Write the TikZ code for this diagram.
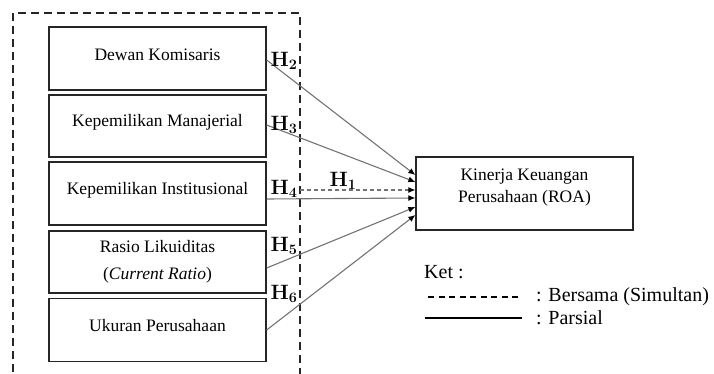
\documentclass[tikz,border=0pt]{standalone}
\usepackage[no-math]{fontspec}
\setmainfont{Liberation Serif}
\usetikzlibrary{arrows.meta}
\tikzset{
  varbox/.style={draw=black!85, line width=1.3pt, minimum width=217pt, inner sep=0pt},
  boxtext/.style={font=\fontsize{17.5}{20}\selectfont, inner sep=0pt, anchor=center},
  hlab/.style={font=\fontsize{21}{24}\selectfont, inner sep=0pt},
  link/.style={draw=black!55, line width=1.1pt, -{Latex[length=7pt,width=6pt,color=black]}},
  simlink/.style={link, dash pattern=on 4pt off 3pt},
  legtext/.style={font=\fontsize{20}{24}\selectfont, inner sep=0pt, anchor=west},
}
\begin{document}
\begin{tikzpicture}[x=1pt,y=-1pt]
\useasboundingbox (0,0) rectangle (714,374);
% outer dashed frame
\draw[line width=1.3pt, dash pattern=on 8pt off 5pt, black!85] (13,385) -- (13,13) -- (300,13) -- (300,385);
% variable boxes
\node[varbox, minimum height=63pt] (b1) at (157.5,58.5) {};
\node[varbox, minimum height=62pt] (b2) at (157.5,126) {};
\node[varbox, minimum height=63pt] (b3) at (157.5,193.5) {};
\node[varbox, minimum height=62pt] (b4) at (157.5,262) {};
\node[varbox, minimum height=63pt] (b5) at (157.5,330) {};
\node[boxtext] (t1) at (157.5,55) {Dewan Komisaris};
\node[boxtext] (t2) at (157.5,122) {Kepemilikan Manajerial};
\node[boxtext] (t3) at (157.5,190) {Kepemilikan Institusional};
\node[boxtext] (t4a) at (157.5,247) {Rasio Likuiditas};
\node[boxtext] (t4b) at (157.5,275) {(\textit{Current Ratio})};
\node[boxtext] (t5) at (157.5,326) {Ukuran Perusahaan};
% target box
\node[varbox, minimum height=73pt] (k) at (524.5,193.5) {};
\node[boxtext] (k1) at (524.5,177) {Kinerja Keuangan};
\node[boxtext] (k2) at (524.5,198) {Perusahaan (ROA)};
% connectors
\coordinate (h1s) at (300,190);
\draw[link] ([yshift=-1.5pt]b1.east) -- ([yshift=18.5pt]k.west);
\draw[link] ([yshift=1pt]b2.east) -- ([yshift=11.5pt]k.west);
\draw[simlink] (h1s) -- ([yshift=3.5pt]k.west);
\draw[link] ([yshift=-5.5pt]b3.east) -- ([yshift=-4.5pt]k.west);
\draw[link] ([yshift=-6pt]b4.east) -- ([yshift=-13.5pt]k.west);
\draw[link] (b5.east) -- ([yshift=-21.5pt]k.west);
% H labels
\node[hlab] (H2) at (284,61) {$\mathbf{H}_{\mathbf{2}}$};
\node[hlab] (H3) at (284,125) {$\mathbf{H}_{\mathbf{3}}$};
\node[hlab] (H4) at (284,189) {$\mathbf{H}_{\mathbf{4}}$};
\node[hlab] (H5) at (284,246) {$\mathbf{H}_{\mathbf{5}}$};
\node[hlab] (H6) at (284,294) {$\mathbf{H}_{\mathbf{6}}$};
\node[hlab] (H1) at (343,181) {$\mathbf{H}_{\mathbf{1}}$};
% legend
\node[legtext] (ket) at (424,272) {Ket :};
\coordinate (ld1) at (428,297);
\coordinate (ld2) at (521,297);
\coordinate (ls1) at (425,318);
\coordinate (ls2) at (522,318);
\draw[line width=1.4pt, dash pattern=on 6pt off 4.5pt] (ld1) -- (ld2);
\draw[line width=1.6pt] (ls1) -- (ls2);
\node[legtext] (lg1) at (536,297) {: Bersama (Simultan)};
\node[legtext] (lg2) at (536,318) {: Parsial};
\end{tikzpicture}
\end{document}
